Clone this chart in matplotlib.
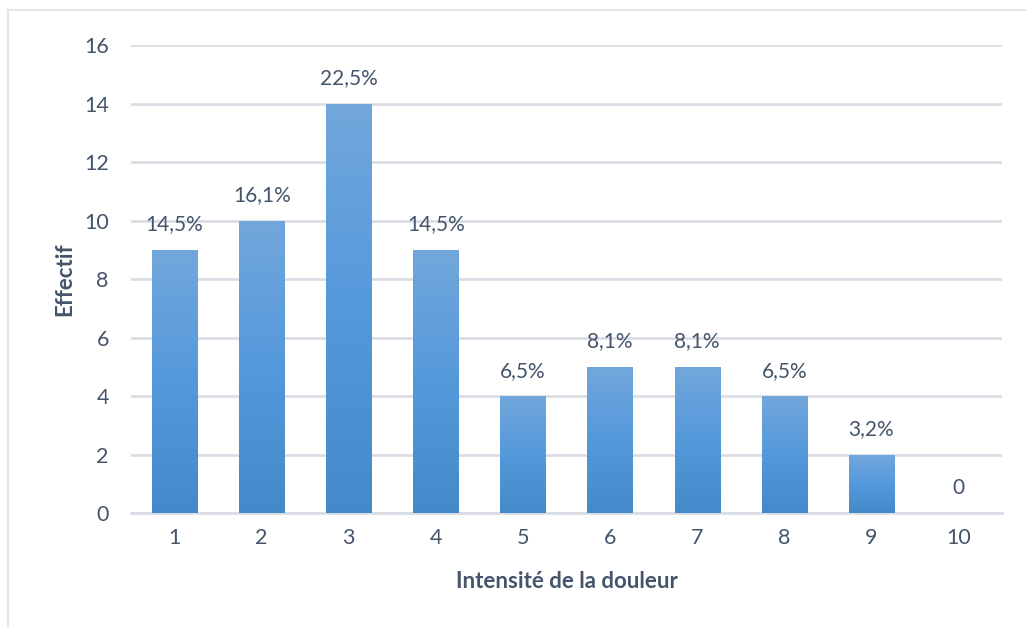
import numpy as np
import matplotlib
matplotlib.use('Agg')
import matplotlib.pyplot as plt
from matplotlib.colors import LinearSegmentedColormap
from matplotlib.lines import Line2D


# -----------------------------------------------------------------------------
# data
# -----------------------------------------------------------------------------
categories = ['1', '2', '3', '4', '5', '6', '7', '8', '9', '10']
effectifs = [9, 10, 14, 9, 4, 5, 5, 4, 2, 0]
pct_labels = ['14,5%', '16,1%', '22,5%', '14,5%', '6,5%', '8,1%', '8,1%',
              '6,5%', '3,2%', '0']
y_ticks = [0, 2, 4, 6, 8, 10, 12, 14, 16]


# -----------------------------------------------------------------------------
# style
# -----------------------------------------------------------------------------
text_color = '#44546A'
grid_color = '#D9DEE6'
plt.rcParams['font.family'] = ['Lato', 'DejaVu Sans']

grad = LinearSegmentedColormap.from_list(
    'bar', ['#4489C9', '#5599DC', '#72A7DB'])

fig = plt.figure(figsize=(10.26, 6.28), dpi=100)
ax = fig.add_axes([0.1277, 0.1831, 0.849, 0.7452])

x = np.arange(len(categories))
bars = ax.bar(x, effectifs, width=0.52, color='none', zorder=3)

# gradient fill inside each bar
g = np.linspace(0, 1, 256).reshape(-1, 1)
for b in bars:
    if b.get_height() <= 0:
        continue
    x0, y0 = b.get_x(), b.get_y()
    im = ax.imshow(g, cmap=grad, origin='lower', aspect='auto',
                   extent=[x0, x0 + b.get_width(), y0, y0 + b.get_height()],
                   zorder=3)
    im.set_clip_path(b)

# value labels
for xi, v, lab in zip(x, effectifs, pct_labels):
    ax.annotate(lab, (xi, v), xytext=(0, 11), textcoords='offset points',
                ha='center', va='bottom', fontsize=15, color=text_color)

ax.set_xlim(-0.5, len(categories) - 0.5)
ax.set_ylim(0, 16)
ax.set_yticks(y_ticks)
ax.set_xticks(x)
ax.set_xticklabels(categories)
ax.grid(axis='y', color=grid_color, linewidth=2, zorder=0)
ax.set_axisbelow(True)
for side in ['top', 'right', 'left']:
    ax.spines[side].set_visible(False)
ax.spines['bottom'].set_color(grid_color)
ax.spines['bottom'].set_linewidth(2)
ax.tick_params(axis='both', length=0, labelsize=15.5, colors=text_color)
ax.tick_params(axis='y', pad=16)
ax.tick_params(axis='x', pad=11)

ax.set_xlabel('Intensité de la douleur', fontsize=16, fontweight='bold',
              color=text_color, labelpad=16)
ax.set_ylabel('Effectif', fontsize=16, fontweight='bold',
              color=text_color, labelpad=6)

# chart frame (top and left edges visible)
fig.add_artist(Line2D([8 / 1026, 1], [1 - 10 / 628, 1 - 10 / 628],
                      color='#E3E6EA', linewidth=1.5))
fig.add_artist(Line2D([8 / 1026, 8 / 1026], [0, 1 - 10 / 628],
                      color='#E3E6EA', linewidth=1.5))

fig.savefig('out.png', dpi=100)
